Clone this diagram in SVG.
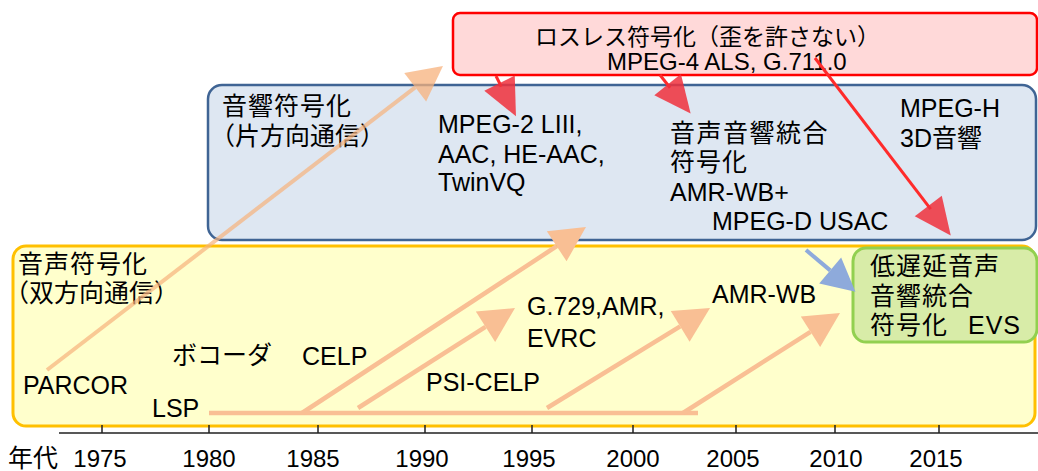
<svg xmlns="http://www.w3.org/2000/svg" width="1038" height="471" viewBox="0 0 1038 471">
<style>
text { font-family: "Liberation Sans", "Noto Sans CJK JP", sans-serif; font-size: 25px; fill: #000; }
.cj { letter-spacing: 1px; }
.t23 { font-size: 23px; }
.t24 { font-size: 24px; }
.yr { font-size: 24px; text-anchor: middle; }
.box-red { fill: #ffd9d9; stroke: #ff0000; stroke-width: 2.5; }
.box-blue { fill: #dee7f2; stroke: #3f6494; stroke-width: 2.5; }
.box-yel { fill: #ffffcc; stroke: #ffc000; stroke-width: 3; }
.box-grn { fill: #d8eca8; stroke: #92d050; stroke-width: 3; }
.or { stroke: #f9bf94; stroke-width: 4.5; fill: none; }
.or-a { marker-end: url(#ah-o); }
.parcor { stroke: #f7b27c; stroke-opacity: 0.7; stroke-width: 4; fill: none; marker-end: url(#ah-p); }
.rd { stroke: #ff2b2b; stroke-width: 3; fill: none; marker-end: url(#ah-r); }
.bl { stroke: #8eaadb; stroke-width: 4; fill: none; marker-end: url(#ah-b); }
.axis { stroke: #222; stroke-width: 1.5; fill: none; }
</style>
<defs>
<marker id="ah-o" markerUnits="userSpaceOnUse" markerWidth="36" markerHeight="36" refX="0" refY="18" orient="auto" overflow="visible"><path d="M0,0 L35,18 L0,36 z" fill="#f9bf94"/></marker>
<marker id="ah-p" markerUnits="userSpaceOnUse" markerWidth="36" markerHeight="36" refX="0" refY="18" orient="auto" overflow="visible"><path d="M0,0 L35,18 L0,36 z" fill="#f7b27c" fill-opacity="0.75"/></marker>
<marker id="ah-r" markerUnits="userSpaceOnUse" markerWidth="34" markerHeight="34" refX="0" refY="17" orient="auto" overflow="visible"><path d="M-4,0 L33,17 L-4,34 z" fill="#f0303c" fill-opacity="0.85"/></marker>
<marker id="ah-b" markerUnits="userSpaceOnUse" markerWidth="34" markerHeight="34" refX="0" refY="17" orient="auto" overflow="visible"><path d="M0,0 L33,17 L0,34 z" fill="#8eaadb"/></marker>
</defs>

<g id="lossless">
<rect class="box-red" x="453" y="13" width="584" height="62" rx="7"/>
<text class="t23" x="535" y="45">ロスレス符号化（歪を許さない）</text>
<text class="t24" x="607" y="70">MPEG-4 ALS, G.711.0</text>
</g>

<g id="audio">
<rect class="box-blue" x="208" y="85" width="828" height="155" rx="14"/>
<text class="cj" x="222" y="115">音響符号化</text>
<text x="210" y="145">（片方向通信）</text>
<text x="438" y="133">MPEG-2 LIII,</text>
<text x="438" y="163">AAC, HE-AAC,</text>
<text x="438" y="191">TwinVQ</text>
<text class="cj" x="670" y="142" style="letter-spacing:1.5px">音声音響統合</text>
<text class="cj" x="670" y="171">符号化</text>
<text x="670" y="201">AMR-WB+</text>
<text x="712" y="230">MPEG-D USAC</text>
<text x="900" y="117">MPEG-H</text>
<text x="900" y="147">3D音響</text>
</g>

<g id="speech">
<rect class="box-yel" x="13" y="246" width="1022" height="180" rx="13"/>
<text class="cj" x="18" y="273">音声符号化</text>
<text x="4" y="302">（双方向通信）</text>
<text x="172" y="364">ボコーダ</text>
<text x="302" y="365">CELP</text>
<text x="23" y="394">PARCOR</text>
<text x="152" y="417">LSP</text>
<text x="527" y="315">G.729,AMR,</text>
<text x="527" y="347">EVRC</text>
<text x="426" y="391">PSI-CELP</text>
<text x="712" y="303">AMR-WB</text>
</g>

<g id="evs">
<rect class="box-grn" x="853" y="248" width="184" height="94" rx="13"/>
<text class="cj" x="870" y="275">低遅延音声</text>
<text class="cj" x="870" y="305">音響統合</text>
<text class="cj" x="870" y="334">符号化<tspan x="968">EVS</tspan></text>
</g>

<g id="axis">
<path class="axis" d="M59,433 H1038 M102,425 V433 M209,425 V433 M318,425 V433 M425,425 V433 M532,425 V433 M633,425 V433 M736,425 V433 M835,425 V433 M939,425 V433"/>
<text x="8" y="467">年代</text>
<text class="yr" x="100" y="467">1975</text>
<text class="yr" x="209" y="467">1980</text>
<text class="yr" x="313" y="467">1985</text>
<text class="yr" x="422" y="467">1990</text>
<text class="yr" x="529" y="467">1995</text>
<text class="yr" x="633" y="467">2000</text>
<text class="yr" x="733" y="467">2005</text>
<text class="yr" x="836" y="467">2010</text>
<text class="yr" x="936" y="467">2015</text>
</g>

<g id="connectors">
<line class="parcor" x1="47" y1="370" x2="415.2" y2="87.3"/>
<line class="or" x1="209" y1="413" x2="698" y2="413"/>
<line class="or or-a" x1="302" y1="413" x2="556.7" y2="246.2"/>
<line class="or or-a" x1="358" y1="408" x2="485.5" y2="326.8"/>
<line class="or or-a" x1="547" y1="408" x2="680.2" y2="326.3"/>
<line class="or or-a" x1="683" y1="413" x2="810.5" y2="331.8"/>
<line class="rd" x1="496" y1="76" x2="501.3" y2="86.7"/>
<line class="rd" x1="660" y1="75" x2="670.1" y2="87.7"/>
<line class="rd" x1="815" y1="58" x2="930.7" y2="209.2"/>
<line class="bl" x1="806" y1="250" x2="830.2" y2="270.4"/>
</g>
</svg>
